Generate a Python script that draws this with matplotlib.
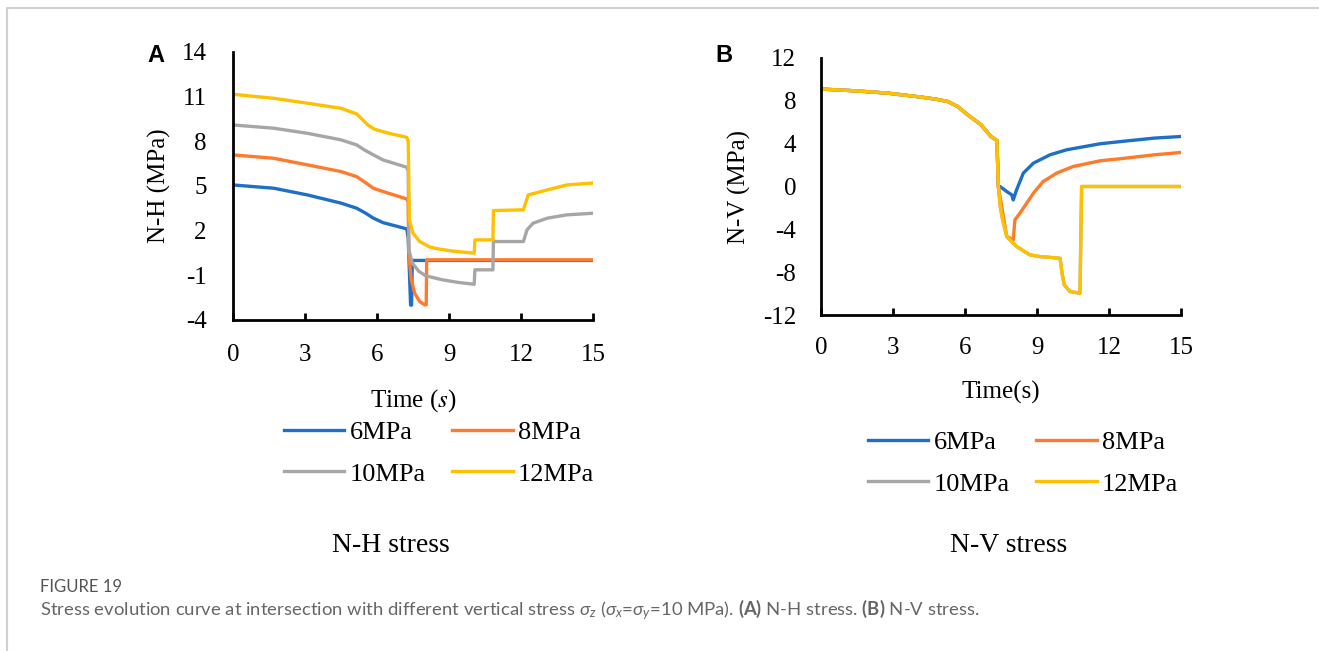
import matplotlib as mpl
import matplotlib.pyplot as plt
from matplotlib.lines import Line2D

mpl.rcParams['font.family'] = ['Liberation Serif', 'DejaVu Serif']
mpl.rcParams['axes.unicode_minus'] = False
mpl.rcParams['mathtext.fontset'] = 'custom'
mpl.rcParams['mathtext.rm'] = 'Lato'
mpl.rcParams['mathtext.it'] = 'Lato:italic'
mpl.rcParams['mathtext.bf'] = 'Lato:bold'

# ---- data ----
labels = ['6MPa', '8MPa', '10MPa', '12MPa']
colors = ['#1E6FC8', '#FF7A2A', '#A6A6A6', '#FFC000']

# (A) N-H stress
a_t_6 = [0, 1.7, 3.1, 4.5, 5.15, 5.5, 5.85, 6.25, 7.24, 7.3, 7.4, 7.44, 7.47, 15]
a_v_6 = [5.07, 4.85, 4.4, 3.85, 3.51, 3.2, 2.84, 2.54, 2.12, 1.5, -3.0, -3.0, 0.0, 0.0]
a_t_8 = [0, 1.7, 3.1, 4.5, 5.15, 5.5, 5.85, 6.25, 7.24, 7.3, 7.32, 7.43, 7.57, 7.78, 7.99, 8.05, 8.07, 15]
a_v_8 = [7.09, 6.86, 6.42, 5.97, 5.63, 5.25, 4.85, 4.63, 4.13, 3.9, 0.49, -1.3, -2.2, -2.76, -2.98, -2.98, 0.04, 0.04]
a_t_10 = [0, 1.7, 3.1, 4.5, 5.15, 5.5, 5.85, 6.25, 7.24, 7.3, 7.33, 7.47, 7.75, 8.03, 8.72, 9.4,
          10.05, 10.08, 10.83, 10.85, 12.1, 12.25, 12.5, 13.1, 13.9, 15]
a_v_10 = [9.1, 8.88, 8.54, 8.1, 7.76, 7.4, 7.09, 6.75, 6.26, 6.0, 0.71, -0.18, -0.74, -1.03, -1.3, -1.48,
          -1.6, -0.63, -0.63, 1.27, 1.27, 2.05, 2.5, 2.84, 3.06, 3.17]
a_t_12 = [0, 1.7, 3.1, 4.5, 5.15, 5.4, 5.62, 5.9, 6.5, 7.24, 7.3, 7.35, 7.5, 7.78, 8.2, 8.6, 9.3,
          10.05, 10.08, 10.83, 10.85, 12.1, 12.3, 13.1, 13.9, 15]
a_v_12 = [11.16, 10.89, 10.56, 10.22, 9.84, 9.45, 9.1, 8.81, 8.54, 8.27, 8.0, 2.72, 1.83, 1.27, 0.9, 0.76, 0.6,
          0.49, 1.38, 1.38, 3.35, 3.4, 4.4, 4.74, 5.07, 5.2]

# (B) N-V stress
b_t_base = [0, 1.39, 2.78, 4.17, 4.8, 5.28, 5.69, 6.11, 6.67, 7.08, 7.33]
b_v_base = [9.1, 8.94, 8.72, 8.35, 8.15, 7.94, 7.48, 6.70, 5.76, 4.67, 4.30]
b_t_12_tail = [7.39, 7.47, 7.57, 7.74, 8.15, 8.7, 9.12, 9.96, 10.05, 10.14, 10.37, 10.79, 10.86, 15]
b_v_12_tail = [0.0, -1.87, -3.12, -4.67, -5.6, -6.38, -6.54, -6.7, -8.2, -9.2, -9.8, -9.97, 0.0, 0.0]
b_t_6_tail = [7.46, 7.74, 7.95, 8.01, 8.15, 8.43, 8.85, 9.54, 10.24, 11.63, 12.5, 13.89, 15]
b_v_6_tail = [0.0, -0.47, -0.78, -1.25, -0.31, 1.25, 2.18, 2.96, 3.43, 3.99, 4.2, 4.52, 4.67]
b_t_8_tail = [7.39, 7.74, 8.01, 8.08, 8.29, 8.57, 8.85, 9.26, 9.82, 10.51, 11.63, 12.5, 13.9, 15]
b_v_8_tail = [0.0, -4.67, -4.98, -3.11, -2.49, -1.56, -0.62, 0.47, 1.25, 1.87, 2.4, 2.6, 2.96, 3.18]

b_t_6 = b_t_base + [7.39] + b_t_6_tail
b_v_6 = b_v_base + [0.0] + b_v_6_tail
b_t_8 = b_t_base + b_t_8_tail
b_v_8 = b_v_base + b_v_8_tail
b_t_10 = b_t_base + b_t_12_tail
b_v_10 = b_v_base + b_v_12_tail
b_t_12 = b_t_base + b_t_12_tail
b_v_12 = b_v_base + b_v_12_tail

a_ticks = [-4, -1, 2, 5, 8, 11, 14]
b_ticks = [-12, -8, -4, 0, 4, 8, 12]
x_ticks = [0, 3, 6, 9, 12, 15]

fig = plt.figure(figsize=(13.19, 6.51), dpi=100)
W, H = 1319, 651


def style_axes(ax, yticks, ypad, xpad):
    ax.set_xlim(0, 15)
    ax.set_ylim(yticks[0], yticks[-1])
    ax.set_xticks(x_ticks)
    ax.set_yticks(yticks)
    ax.set_yticks([yticks[-1]], minor=True)
    for s in ['top', 'right']:
        ax.spines[s].set_visible(False)
    for s in ['left', 'bottom']:
        ax.spines[s].set_linewidth(2.0)
    ax.tick_params(axis='x', direction='in', length=5, width=2, labelsize=18, pad=xpad)
    ax.tick_params(axis='y', which='major', length=0, labelsize=18, pad=ypad)
    ax.tick_params(axis='y', which='minor', direction='in', length=6, width=2)
    ax.patch.set_alpha(0)


def add_legend(ax, lines, cx, cy):
    # row-major order like the reference: 6, 8 / 10, 12
    order = [0, 2, 1, 3]
    ax.legend([lines[i] for i in order], [labels[i] for i in order], loc='center',
              bbox_to_anchor=(cx / W, 1 - cy / H), bbox_transform=fig.transFigure,
              ncol=2, frameon=False, fontsize=19, handlelength=2.3, handletextpad=0.2,
              columnspacing=1.0, labelspacing=0.7)


axA = fig.add_axes([233 / W, 1 - 320 / H, 360 / W, 268 / H])
linesA = []
for t, v, c in zip([a_t_6, a_t_8, a_t_10, a_t_12], [a_v_6, a_v_8, a_v_10, a_v_12], colors):
    linesA += axA.plot(t, v, color=c, lw=2.4, solid_joinstyle='round')
style_axes(axA, a_ticks, 19, 17)
axA.set_ylabel('N-H (MPa)', fontsize=18)
axA.yaxis.set_label_coords(-0.172, 0.5)
axA.set_xlabel('Time ($s$)', fontsize=18, math_fontfamily='stix')
axA.xaxis.set_label_coords(0.5, -0.25)
add_legend(axA, linesA, 439, 453)

axB = fig.add_axes([821 / W, 1 - 315 / H, 360 / W, 257 / H])
linesB = []
for t, v, c in zip([b_t_6, b_t_8, b_t_10, b_t_12], [b_v_6, b_v_8, b_v_10, b_v_12], colors):
    linesB += axB.plot(t, v, color=c, lw=2.4, solid_joinstyle='round')
style_axes(axB, b_ticks, 18, 16)
axB.set_ylabel('N-V (MPa)', fontsize=18)
axB.yaxis.set_label_coords(-0.194, 0.5)
axB.set_xlabel('Time(s)', fontsize=18)
axB.xaxis.set_label_coords(0.5, -0.255)
add_legend(axB, linesB, 1023, 463)

# panel letters and subtitles
fig.text(156 / W, 1 - 55 / H, 'A', fontsize=17, fontweight='bold', family='Liberation Sans',
         ha='center', va='center')
fig.text(724 / W, 1 - 55 / H, 'B', fontsize=17, fontweight='bold', family='Liberation Sans',
         ha='center', va='center')
fig.text(391 / W, 1 - 545 / H, 'N-H stress', fontsize=20, ha='center', va='center')
fig.text(1009 / W, 1 - 545 / H, 'N-V stress', fontsize=20, ha='center', va='center')

# caption
fig.text(40 / W, 1 - 587 / H, 'FIGURE 19', fontsize=12, family='Lato', color='#555555',
         va='center')
fig.text(40 / W, 1 - 610 / H,
         r'Stress evolution curve at intersection with different vertical stress $\sigma_z$ '
         r'($\sigma_x$=$\sigma_y$=10 MPa). $\mathbf{(A)}$ N-H stress. $\mathbf{(B)}$ N-V stress.',
         fontsize=13.3, family='Lato', color='#666666', va='center')

# page frame
fig.add_artist(Line2D([7 / W, 7 / W, 1], [0, 1 - 8 / H, 1 - 8 / H], transform=fig.transFigure,
                      color='#d0d0d0', lw=1.5))

fig.savefig('out.png', dpi=100)
